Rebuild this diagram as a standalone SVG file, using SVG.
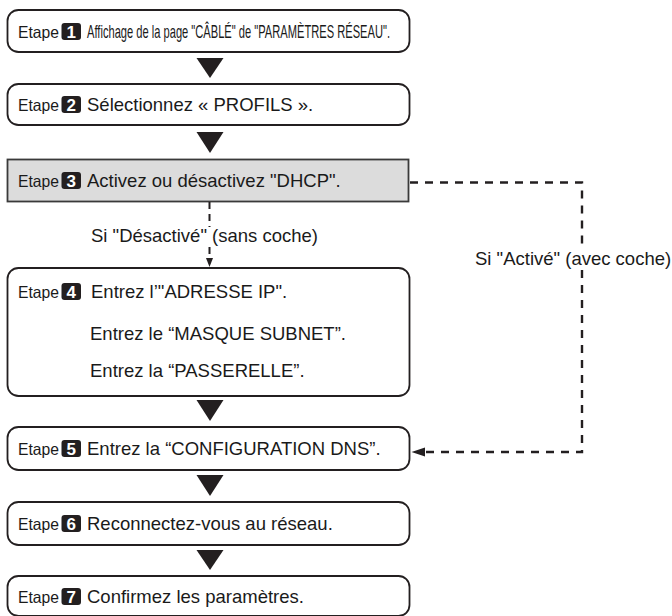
<svg xmlns="http://www.w3.org/2000/svg" width="672" height="616" viewBox="0 0 672 616">
<style>
.box{fill:#fff;stroke:#231f20;stroke-width:1.8}
.gray{fill:#dcdcdc;stroke:#3a3a3a;stroke-width:1.8}
.t{font-family:"Liberation Sans",Arial,sans-serif;font-size:18.5px;fill:#1a1a1a}
.et{font-family:"Liberation Sans",Arial,sans-serif;font-size:16.5px;fill:#1a1a1a}
.badge{fill:#231f20}
.num{font-family:"Liberation Sans",Arial,sans-serif;font-size:17px;font-weight:bold;fill:#fff;text-anchor:middle}
.tri{fill:#231f20}
.dash{fill:none;stroke:#231f20;stroke-width:2.4;stroke-dasharray:8 7}
.dash2{fill:none;stroke:#231f20;stroke-width:2;stroke-dasharray:7 5}
</style>

<g id="step1">
<rect class="box" x="7.5" y="10" width="402" height="42" rx="11"/>
<text class="et" x="18" y="38" textLength="41" lengthAdjust="spacingAndGlyphs">Etape</text>
<rect class="badge" x="61.5" y="23" width="19.5" height="17" rx="3"/>
<text class="num" x="71.2" y="37.5">1</text>
<text class="t" x="87" y="38" font-size="18" textLength="303" lengthAdjust="spacingAndGlyphs">Affichage de la page "CÂBLÉ" de "PARAMÈTRES RÉSEAU".</text>
</g>

<g id="step2">
<rect class="box" x="7.5" y="84" width="402" height="41" rx="11"/>
<text class="et" x="18" y="111" textLength="41" lengthAdjust="spacingAndGlyphs">Etape</text>
<rect class="badge" x="61.5" y="96" width="19.5" height="17" rx="3"/>
<text class="num" x="71.2" y="110.5">2</text>
<text class="t" x="87" y="111">Sélectionnez « PROFILS ».</text>
</g>

<g id="step3">
<rect class="gray" x="7.5" y="159.5" width="401" height="42"/>
<text class="et" x="18" y="187" textLength="41" lengthAdjust="spacingAndGlyphs">Etape</text>
<rect class="badge" x="61.5" y="172" width="19.5" height="17" rx="3"/>
<text class="num" x="71.2" y="186.5">3</text>
<text class="t" x="87" y="187">Activez ou désactivez "DHCP".</text>
</g>

<g id="step4">
<rect class="box" x="7.5" y="268" width="402" height="128" rx="11"/>
<text class="et" x="18" y="298" textLength="41" lengthAdjust="spacingAndGlyphs">Etape</text>
<rect class="badge" x="61.5" y="283" width="19.5" height="17" rx="3"/>
<text class="num" x="71.2" y="297.5">4</text>
<text class="t" x="91" y="298">Entrez l’"ADRESSE IP".</text>
<text class="t" x="90" y="340">Entrez le “MASQUE SUBNET”.</text>
<text class="t" x="90" y="377">Entrez la “PASSERELLE”.</text>
</g>

<g id="step5">
<rect class="box" x="7.5" y="427" width="402" height="43" rx="11"/>
<text class="et" x="18" y="455" textLength="41" lengthAdjust="spacingAndGlyphs">Etape</text>
<rect class="badge" x="61.5" y="440" width="19.5" height="17" rx="3"/>
<text class="num" x="71.2" y="454.5">5</text>
<text class="t" x="87" y="455">Entrez la “CONFIGURATION DNS”.</text>
</g>

<g id="step6">
<rect class="box" x="7.5" y="502" width="402" height="43" rx="11"/>
<text class="et" x="18" y="530" textLength="41" lengthAdjust="spacingAndGlyphs">Etape</text>
<rect class="badge" x="61.5" y="515" width="19.5" height="17" rx="3"/>
<text class="num" x="71.2" y="529.5">6</text>
<text class="t" x="87" y="530">Reconnectez-vous au réseau.</text>
</g>

<g id="step7">
<rect class="box" x="7.5" y="576" width="402" height="40" rx="11"/>
<text class="et" x="18" y="603" textLength="41" lengthAdjust="spacingAndGlyphs">Etape</text>
<rect class="badge" x="61.5" y="588" width="19.5" height="17" rx="3"/>
<text class="num" x="71.2" y="602.5">7</text>
<text class="t" x="87" y="603">Confirmez les paramètres.</text>
</g>

<g id="connectors">
<polygon class="tri" points="196.5,58 223.5,58 210,78"/>
<polygon class="tri" points="196.5,132 223.5,132 210,153"/>
<polygon class="tri" points="196.5,400 223.5,400 210,421"/>
<polygon class="tri" points="196.5,475 223.5,475 210,496"/>
<polygon class="tri" points="196.5,550 223.5,550 210,570"/>
<path class="dash2" d="M209.5,202 V227"/>
<path class="dash2" d="M209.5,247 V260"/>
<polygon class="tri" points="206,258 213,258 209.5,267"/>
<path class="dash" d="M410,182.5 H582 V246"/>
<path class="dash" d="M582,270 V452 H424"/>
<polygon class="tri" points="425,447.5 425,456.5 411.5,452"/>
<text class="t" x="91" y="242">Si "Désactivé" (sans coche)</text>
<text class="t" x="475" y="265">Si "Activé" (avec coche)</text>
</g>
</svg>
